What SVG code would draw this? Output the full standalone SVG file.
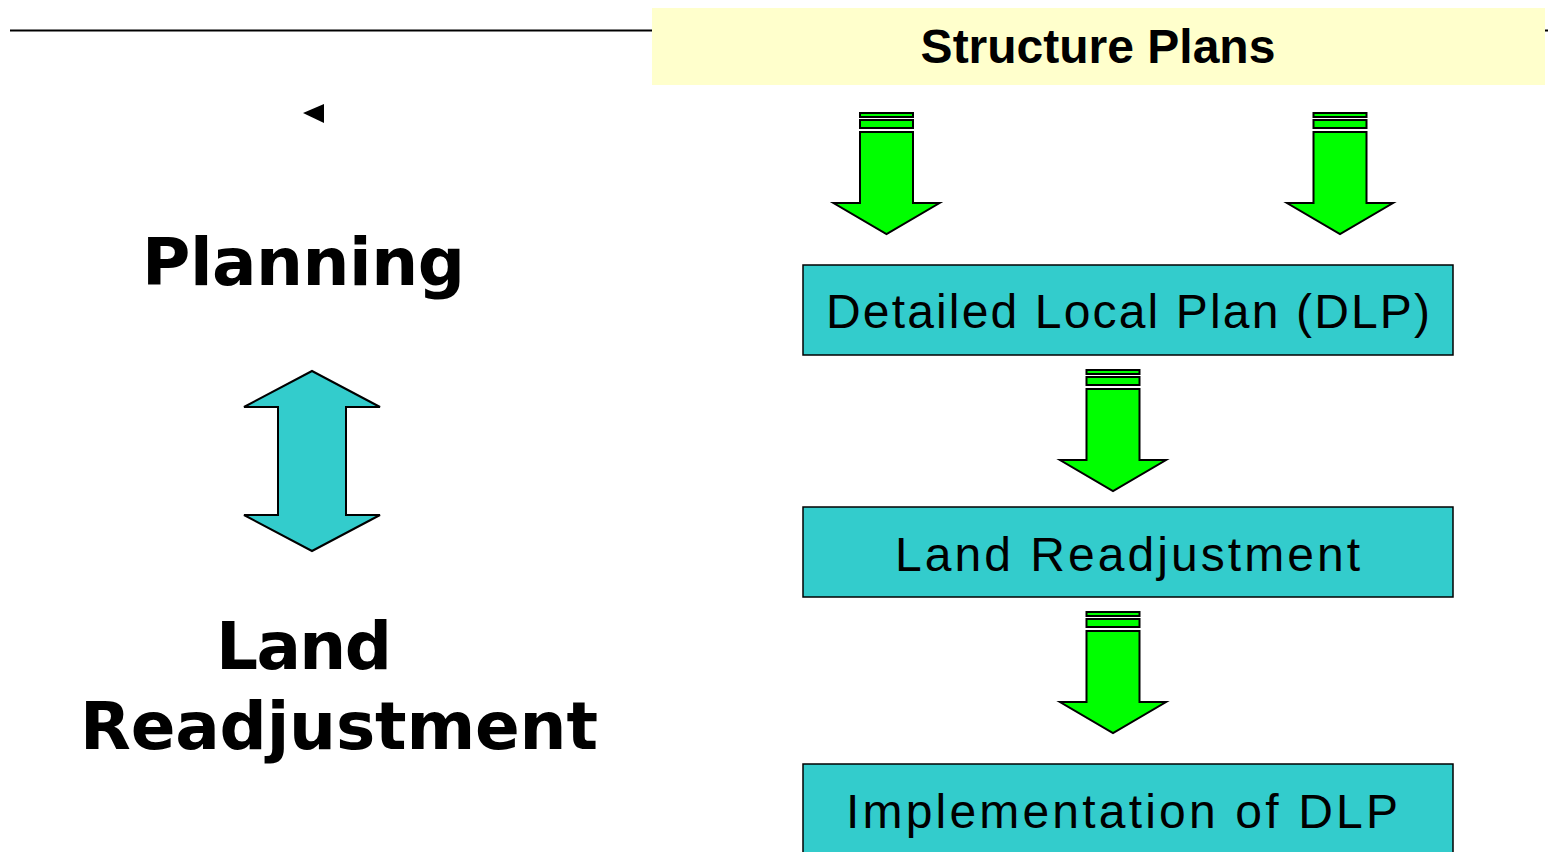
<svg xmlns="http://www.w3.org/2000/svg" xmlns:xlink="http://www.w3.org/1999/xlink" width="1548" height="852" viewBox="0 0 1548 852">
<style>
.box{fill:#33CCCC;stroke:#000;stroke-width:1.5}
.boxtxt{font-family:"Liberation Sans",Arial,sans-serif;font-size:48px;fill:#000;text-anchor:middle}
.big{font-family:"DejaVu Sans",Verdana,sans-serif;font-weight:bold;font-size:66px;fill:#000;text-anchor:middle}
.garrow{fill:#00FF00;stroke:#000;stroke-width:2;stroke-linejoin:miter}
</style>
<defs>
<g id="greenArrow">
<rect class="garrow" x="-26.5" y="0" width="53" height="4"/>
<rect class="garrow" x="-26.5" y="7" width="53" height="8"/>
<polygon class="garrow" points="-26.5,19 26.5,19 26.5,90 53,90 0,121 -53,90 -26.5,90"/>
</g>
</defs>
<rect width="1548" height="852" fill="#fff"/>
<line x1="10" y1="30.5" x2="1548" y2="30.5" stroke="#000" stroke-width="2"/>
<g id="structure-plans">
<rect x="652" y="8" width="893" height="77" fill="#FFFFCC"/>
<text x="1098" y="63" font-family="'Liberation Sans',Arial,sans-serif" font-weight="bold" font-size="48" text-anchor="middle">Structure Plans</text>
</g>
<g id="marker-triangle">
<polygon points="303,113 324,104 324,123" fill="#000"/>
</g>
<g id="planning">
<text class="big" x="303.5" y="285" textLength="323" lengthAdjust="spacing">Planning</text>
</g>
<g id="land-readjustment-left">
<text class="big" x="304" y="669" textLength="176" lengthAdjust="spacing">Land</text>
<text class="big" x="339" y="749" textLength="518" lengthAdjust="spacing">Readjustment</text>
</g>
<g id="dlp">
<rect class="box" x="803" y="265" width="650" height="90"/>
<text class="boxtxt" x="1128" y="328" textLength="604" lengthAdjust="spacing">Detailed Local Plan (DLP)</text>
</g>
<g id="land-readjustment">
<rect class="box" x="803" y="507" width="650" height="90"/>
<text class="boxtxt" x="1127.5" y="571" textLength="465" lengthAdjust="spacing">Land Readjustment</text>
</g>
<g id="implementation">
<rect class="box" x="803" y="764" width="650" height="100"/>
<text class="boxtxt" x="1122" y="828" textLength="552" lengthAdjust="spacing">Implementation of DLP</text>
</g>
<g id="connectors">
<polygon points="312,371 380,407 346,407 346,515 380,515 312,551 244,515 278,515 278,407 244,407" fill="#33CCCC" stroke="#000" stroke-width="2"/>
<use xlink:href="#greenArrow" transform="translate(886.5,113)"/>
<use xlink:href="#greenArrow" transform="translate(1340,113)"/>
<use xlink:href="#greenArrow" transform="translate(1113,370)"/>
<use xlink:href="#greenArrow" transform="translate(1113,612)"/>
</g>
</svg>
